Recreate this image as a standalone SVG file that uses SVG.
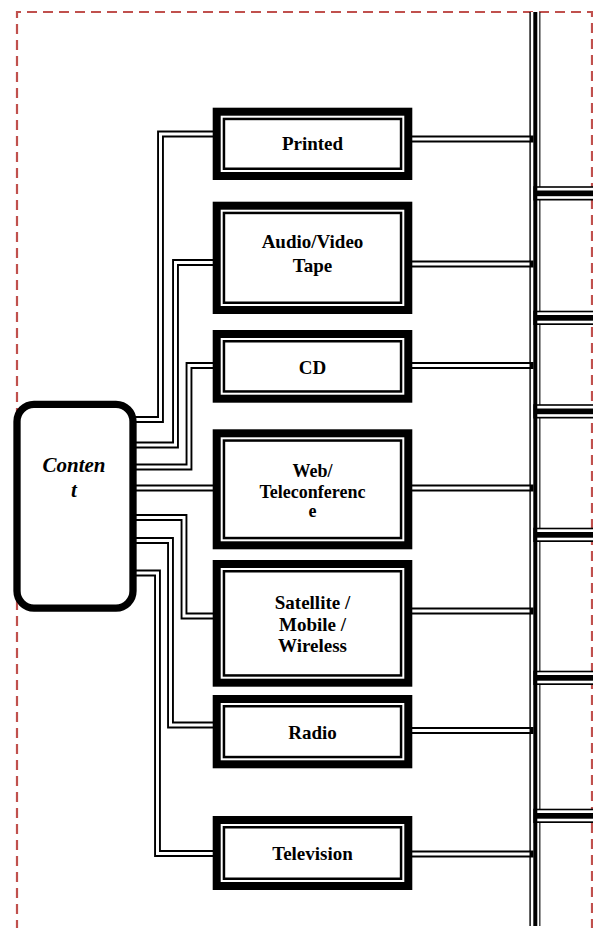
<svg xmlns="http://www.w3.org/2000/svg" width="593" height="928" viewBox="0 0 593 928">
<style>
.frame{fill:none;stroke:#c0504d;stroke-width:2.2;stroke-dasharray:10 6}
.bo{fill:#fff;stroke:#000;stroke-width:8}
.bi{fill:none;stroke:#000;stroke-width:2.5}
.lbl{font-family:"Liberation Serif","Times New Roman",serif;font-weight:bold;font-size:19px;text-anchor:middle;fill:#000}
.dlb{fill:none;stroke:#000;stroke-width:6.8;stroke-linejoin:miter}
.dlw{fill:none;stroke:#fff;stroke-width:3;stroke-linejoin:miter}
.blk{fill:#000}
.wht{fill:#fff}
</style>
<rect width="593" height="928" fill="#fff"/>
<path class="frame" d="M17,930 V12 H592 V930"/>
<g id="bus">
<rect class="blk" x="529.4" y="12" width="11" height="914"/>
<rect class="wht" x="530.8" y="12" width="2.5" height="914"/>
<rect class="wht" x="537.3" y="12" width="2" height="914"/>
</g>
<g id="branches">
<g transform="translate(0,193.5)"><rect class="blk" x="533.3" y="-7.3" width="60" height="14.3"/><rect class="wht" x="537.3" y="-5.7" width="56" height="2.7"/><rect class="wht" x="537.3" y="2.7" width="56" height="2.6"/></g>
<g transform="translate(0,318)"><rect class="blk" x="533.3" y="-7.3" width="60" height="14.3"/><rect class="wht" x="537.3" y="-5.7" width="56" height="2.7"/><rect class="wht" x="537.3" y="2.7" width="56" height="2.6"/></g>
<g transform="translate(0,411.5)"><rect class="blk" x="533.3" y="-7.3" width="60" height="14.3"/><rect class="wht" x="537.3" y="-5.7" width="56" height="2.7"/><rect class="wht" x="537.3" y="2.7" width="56" height="2.6"/></g>
<g transform="translate(0,535)"><rect class="blk" x="533.3" y="-7.3" width="60" height="14.3"/><rect class="wht" x="537.3" y="-5.7" width="56" height="2.7"/><rect class="wht" x="537.3" y="2.7" width="56" height="2.6"/></g>
<g transform="translate(0,678)"><rect class="blk" x="533.3" y="-7.3" width="60" height="14.3"/><rect class="wht" x="537.3" y="-5.7" width="56" height="2.7"/><rect class="wht" x="537.3" y="2.7" width="56" height="2.6"/></g>
<g transform="translate(0,816)"><rect class="blk" x="533.3" y="-7.3" width="60" height="14.3"/><rect class="wht" x="537.3" y="-5.7" width="56" height="2.7"/><rect class="wht" x="537.3" y="2.7" width="56" height="2.6"/></g>
</g>
<g id="connectors">
<path class="dlb" d="M136,419.5 H160.5 V134 H213"/><path class="dlw" d="M136,419.5 H160.5 V134 H213"/>
<path class="dlb" d="M136,445 H175.5 V262.5 H213"/><path class="dlw" d="M136,445 H175.5 V262.5 H213"/>
<path class="dlb" d="M136,467 H189 V365.5 H213"/><path class="dlw" d="M136,467 H189 V365.5 H213"/>
<path class="dlb" d="M136,488 H213"/><path class="dlw" d="M136,488 H213"/>
<path class="dlb" d="M136,517.5 H184 V616 H213"/><path class="dlw" d="M136,517.5 H184 V616 H213"/>
<path class="dlb" d="M136,540.5 H170.5 V725 H213"/><path class="dlw" d="M136,540.5 H170.5 V725 H213"/>
<path class="dlb" d="M136,573 H157.5 V853.5 H213"/><path class="dlw" d="M136,573 H157.5 V853.5 H213"/>
<path class="dlb" d="M412,139 H533.5"/><path class="dlw" d="M412,139 H529.5"/>
<path class="dlb" d="M412,264 H533.5"/><path class="dlw" d="M412,264 H529.5"/>
<path class="dlb" d="M412,365.5 H533.5"/><path class="dlw" d="M412,365.5 H529.5"/>
<path class="dlb" d="M412,488 H533.5"/><path class="dlw" d="M412,488 H529.5"/>
<path class="dlb" d="M412,611 H533.5"/><path class="dlw" d="M412,611 H529.5"/>
<path class="dlb" d="M412,730.5 H533.5"/><path class="dlw" d="M412,730.5 H529.5"/>
<path class="dlb" d="M412,854 H533.5"/><path class="dlw" d="M412,854 H529.5"/>
</g>
<g id="content">
<rect x="17" y="404.4" width="116" height="203.7" rx="17" fill="#fff" stroke="#000" stroke-width="7.3"/>
<text x="74" y="471.7" font-family="'Liberation Serif','Times New Roman',serif" font-weight="bold" font-style="italic" font-size="21" text-anchor="middle">Conten</text>
<text x="74" y="497" font-family="'Liberation Serif','Times New Roman',serif" font-weight="bold" font-style="italic" font-size="21" text-anchor="middle">t</text>
</g>
<g id="printed">
<rect class="bo" x="216.7" y="111.7" width="191.6" height="64.3"/>
<rect class="bi" x="223.95" y="118.95" width="177.1" height="49.8"/>
<text class="lbl" x="312.5" y="150">Printed</text>
</g>
<g id="audio-video-tape">
<rect class="bo" x="216.7" y="205.7" width="191.6" height="104.3"/>
<rect class="bi" x="223.95" y="212.95" width="177.1" height="89.8"/>
<text class="lbl" x="312.5" y="248.3">Audio/Video</text>
<text class="lbl" x="312.5" y="271.5">Tape</text>
</g>
<g id="cd">
<rect class="bo" x="216.7" y="334" width="191.6" height="64.7"/>
<rect class="bi" x="223.95" y="341.25" width="177.1" height="50.2"/>
<text class="lbl" x="312.5" y="374.3">CD</text>
</g>
<g id="web-teleconference">
<rect class="bo" x="216.7" y="433.3" width="191.6" height="112"/>
<rect class="bi" x="223.95" y="440.55" width="177.1" height="97.5"/>
<text class="lbl" x="312.5" y="477" style="font-size:18px">Web/</text>
<text class="lbl" x="312.5" y="497.7" style="font-size:18px">Teleconferenc</text>
<text class="lbl" x="312.5" y="517" style="font-size:18px">e</text>
</g>
<g id="satellite">
<rect class="bo" x="216.7" y="564" width="191.6" height="118.7"/>
<rect class="bi" x="223.95" y="571.25" width="177.1" height="104.2"/>
<text class="lbl" x="312.5" y="608.7">Satellite /</text>
<text class="lbl" x="312.5" y="630.5">Mobile /</text>
<text class="lbl" x="312.5" y="652.3">Wireless</text>
</g>
<g id="radio">
<rect class="bo" x="216.7" y="699" width="191.6" height="65.3"/>
<rect class="bi" x="223.95" y="706.25" width="177.1" height="50.8"/>
<text class="lbl" x="312.5" y="739.3">Radio</text>
</g>
<g id="television">
<rect class="bo" x="216.7" y="820" width="191.6" height="66"/>
<rect class="bi" x="223.95" y="827.25" width="177.1" height="51.5"/>
<text class="lbl" x="312.5" y="860">Television</text>
</g>
</svg>
